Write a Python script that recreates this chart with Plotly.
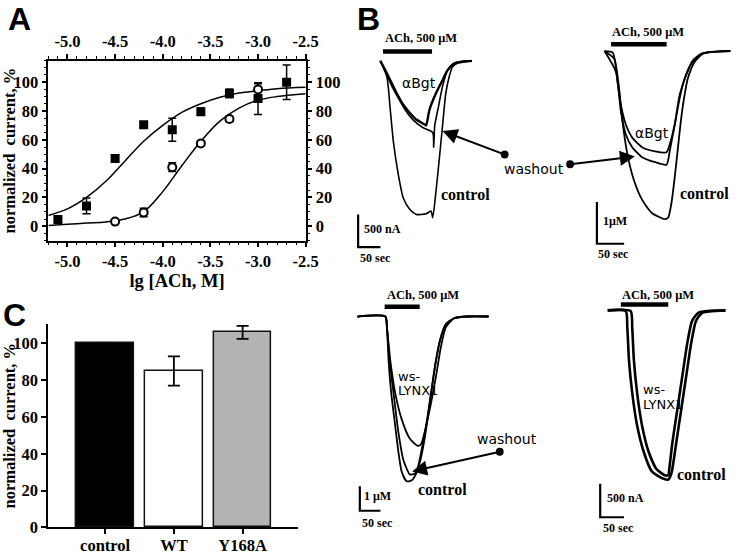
import plotly.graph_objects as go

W, H = 745, 558

# ---------------- Panel A data ----------------
lg_filled = [-5.1, -4.8, -4.5, -4.2, -3.9, -3.6, -3.3, -3.0, -2.7]
cur_filled = [4.6, 14.1, 47, 70.4, 67, 79.5, 92.2, 88.6, 100]
err_filled = [2, 5.5, 2.5, 1.5, 8, 2.5, 3, 11, 12]
lg_open = [-4.5, -4.2, -3.9, -3.6, -3.3, -3.0]
cur_open = [3.2, 9.5, 41, 57.5, 74.5, 95]
err_open = [1, 3, 3, 1.5, 2, 4]
fit_lg = [-5.2, -5.0, -4.8, -4.6, -4.4, -4.2, -4.0, -3.8, -3.6, -3.4, -3.2, -3.0, -2.8, -2.5]
fit_filled = [7.5, 12, 20, 31, 45, 59, 70, 79, 85, 89.5, 92.5, 94, 95.5, 96.5]
fit_open = [0.5, 1.3, 2.2, 3, 5, 10, 24, 42, 59, 73, 82, 87.5, 90, 92]
a_ticks = [-5.0, -4.5, -4.0, -3.5, -3.0, -2.5]
a_ticklabels = ["-5.0", "-4.5", "-4.0", "-3.5", "-3.0", "-2.5"]

# ---------------- Panel C data ----------------
c_cats = ["control", "WT", "Y168A"]
c_vals = [100, 85, 106]
c_errs = [0, 8, 3.5]

# ---------------- Panel B data (time s, current) ----------------
# B1 (nA)
b1_ctrl_t = [-6, 8.8, 16.3, 23.5, 34.5, 45.5, 60.3, 74.8, 96.8, 107.8, 111.5, 118.8, 126.3, 133.5, 140.8, 148.3, 155.5, 170.3, 199.5]
b1_ctrl_i = [0, -245, -745, -1245, -1740, -2095, -2270, -2345, -2335, -2295, -2395, -1995, -1495, -990, -495, -245, -95, -20, 0]
b1_bgt_t = [-6, 5.3, 16.3, 30.8, 45.5, 60.3, 74.8, 93.3, 96.8, 104.3, 118.8, 133.5, 144.5, 159.3, 199.5]
b1_bgt_i = [0, -145, -295, -495, -670, -795, -895, -970, -985, -745, -495, -295, -145, -45, 0]
b1_wash_t = [-6, 5.9, 19.1, 34.5, 49.9, 67.5, 89.5, 111.5, 113.7, 116, 124.7, 133.5, 144.5, 159.9, 199.5]
b1_wash_i = [0, -165, -375, -570, -750, -900, -1020, -1095, -1320, -990, -690, -390, -150, -30, 0]
b1_ach = [0, 110]
# B2 (uA)
b2_ctrl_t = [-12, 2.9, 9, 14.9, 20.9, 29.9, 41.9, 56.9, 74.9, 99, 104.9, 110.9, 117, 122.9, 128.9, 135, 140.9, 153, 167.9, 189, 218.9]
b2_ctrl_i = [0, -0.03, -0.35, -0.9, -1.68, -2.47, -3.1, -3.57, -3.89, -4.04, -4.0, -3.65, -3.02, -2.31, -1.6, -1.05, -0.66, -0.27, -0.07, -0.02, 0]
b2_bgt_t = [-12, 5.9, 11.9, 18, 27, 38.9, 56.9, 81, 101.9, 108, 117, 126, 135, 146.9, 164.9, 200.3, 218.9]
b2_bgt_i = [0, -0.19, -0.74, -1.29, -1.76, -2.08, -2.31, -2.41, -2.43, -2.23, -1.76, -1.13, -0.66, -0.31, -0.07, 0, 0]
b2_wash_t = [-12, 9, 18, 27, 38.9, 56.9, 81, 101.9, 108, 117, 126, 137.9, 149.9, 167.9, 218.9]
b2_wash_i = [0, -0.5, -1.44, -2.0, -2.31, -2.55, -2.67, -2.73, -2.38, -1.76, -1.05, -0.58, -0.23, -0.05, 0]
b2_ach = [0, 102]
# B3 (uA)
b3_ctrl_t = [-66, 1.7, 5.5, 9.5, 15.9, 25.5, 33.3, 41.2, 53.1, 65, 76.9, 88.8, 100.7, 112.6, 124.5, 136.4, 148.3, 168.3, 200, 252]
b3_ctrl_i = [0, 0, -0.44, -1.78, -3.11, -4.44, -5.51, -6.31, -6.71, -6.68, -6.38, -5.51, -4.44, -3.11, -1.78, -0.84, -0.31, -0.07, 0, 0]
b3_lynx_t = [-66, 1.7, 5.5, 13.6, 25.5, 41.2, 61.2, 80.9, 88.8, 100.7, 112.6, 124.5, 136.4, 148.3, 168.3, 200, 252]
b3_lynx_i = [0, 0, -0.44, -1.78, -3.11, -4.18, -4.98, -5.27, -5.18, -4.44, -3.51, -2.44, -1.24, -0.44, -0.07, 0, 0]
b3_wash_t = [-66, 1.7, 5.5, 11.9, 21.4, 33.3, 45.2, 61.2, 73.8, 85.7, 97.6, 109.5, 121.4, 133.3, 147.6, 169, 200, 252]
b3_wash_i = [0, 0, -0.44, -1.78, -3.11, -4.71, -5.83, -6.43, -6.39, -5.91, -4.91, -3.51, -2.11, -1.03, -0.35, -0.07, 0, 0]
b3_ach = [0, 85]
# B4 (nA)
b4_ctrl_t = [-27.6, 10.3, 13.6, 17.1, 23.9, 34.2, 48, 65.1, 85.7, 99.5, 106.3, 116.6, 126.9, 137.2, 147.5, 157.8, 171.6, 219.6]
b4_ctrl_i = [0, -10, -254, -745, -1235, -1724, -2117, -2411, -2509, -2533, -2436, -1970, -1480, -989, -500, -157, -34, 0]
b4_lynx_t = [-27.6, 20.6, 23.9, 27.4, 34.2, 44.5, 58.3, 75.4, 92.7, 99.5, 101.6, 108.4, 118.7, 129, 139.3, 149.6, 163.4, 219.6]
b4_lynx_i = [0, -10, -254, -745, -1235, -1724, -2117, -2381, -2470, -2470, -2380, -1970, -1480, -989, -500, -157, -34, 0]
b4_ach = [0, 99.5]

# ---------------- helpers ----------------
def dx(l, r):
    return [l / W, r / W]

def dy(t, b):
    return [1 - b / H, 1 - t / H]

def P(x, y):
    return x / W, 1 - y / H

BLACK = "black"
serif_b = dict(family="Liberation Serif", color=BLACK, weight="bold")

fig = go.Figure()

# ---------------- Panel A ----------------
fig.add_trace(go.Scatter(x=fit_lg, y=fit_filled, mode="lines", line=dict(color=BLACK, width=1.5, shape="spline"),
                         xaxis="x", yaxis="y", showlegend=False, hoverinfo="skip"))
fig.add_trace(go.Scatter(x=fit_lg, y=fit_open, mode="lines", line=dict(color=BLACK, width=1.5, shape="spline"),
                         xaxis="x", yaxis="y", showlegend=False, hoverinfo="skip"))
fig.add_trace(go.Scatter(x=lg_filled, y=cur_filled, mode="markers",
                         marker=dict(symbol="square", size=9, color=BLACK),
                         error_y=dict(type="data", array=err_filled, color=BLACK, thickness=1.5, width=4),
                         xaxis="x", yaxis="y", showlegend=False))
fig.add_trace(go.Scatter(x=lg_open, y=cur_open, mode="markers",
                         marker=dict(symbol="circle", size=8, color="white", line=dict(color=BLACK, width=2)),
                         error_y=dict(type="data", array=err_open, color=BLACK, thickness=1.5, width=4),
                         xaxis="x", yaxis="y", showlegend=False))
# dummy traces to activate top/right axes
fig.add_trace(go.Scatter(x=[-3.0], y=[50], mode="markers", marker=dict(opacity=0), xaxis="x2", yaxis="y2",
                         showlegend=False, hoverinfo="skip"))

axA_common = dict(showline=True, linecolor=BLACK, linewidth=1.5, ticks="outside", ticklen=5, tickwidth=1.5,
                  tickcolor=BLACK, showgrid=False, zeroline=False, tickfont=dict(size=16.5, **serif_b))
xA = dict(domain=dx(48.3, 310.5), range=[-5.2, -2.5], tickvals=a_ticks, ticktext=a_ticklabels,
          minor=dict(dtick=0.1, tick0=-5.0, ticks="outside", ticklen=3, tickwidth=1.2, tickcolor=BLACK),
          anchor="y", **axA_common)
yA = dict(domain=dy(61.7, 245), range=[-10, 115], tickvals=[0, 20, 40, 60, 80, 100],
          minor=dict(dtick=5, tick0=0, ticks="outside", ticklen=3, tickwidth=1.2, tickcolor=BLACK),
          anchor="x", **axA_common)
fig.update_layout(
    xaxis=dict(**xA, side="bottom",
               title=dict(text="lg [ACh, M]", font=dict(size=18.5, **serif_b), standoff=0)),
    xaxis2=dict(**{k: v for k, v in xA.items() if k != "anchor"}, overlaying="x", side="top", anchor="y"),
    yaxis=dict(**yA, side="left",
               title=dict(text="normalized  current, %", font=dict(size=16.5, **serif_b), standoff=0)),
    yaxis2=dict(**{k: v for k, v in yA.items() if k != "anchor"}, overlaying="y", side="right", anchor="x"),
)

# ---------------- Panel C ----------------
fig.add_trace(go.Bar(x=[0, 1, 2], y=c_vals, width=0.84,
                     marker=dict(color=["black", "white", "#b3b3b3"], line=dict(color="#111", width=1.5)),
                     error_y=dict(type="data", array=c_errs, color=BLACK, thickness=1.8, width=6),
                     xaxis="x3", yaxis="y3", showlegend=False))
fig.update_layout(
    xaxis3=dict(domain=dx(48, 303), range=[-0.83, 2.81], tickvals=[0, 1, 2], ticktext=c_cats,
                showline=True, linecolor=BLACK, linewidth=1.5, ticks="outside", ticklen=5, tickwidth=1.5,
                tickcolor=BLACK, showgrid=False, zeroline=False, anchor="y3", ticklabelstandoff=-3,
                tickfont=dict(size=16.5, **serif_b)),
    yaxis3=dict(domain=dy(330, 537), range=[0, 110.5], tickvals=[0, 20, 40, 60, 80, 100],
                showline=True, linecolor=BLACK, linewidth=1.5, ticks="outside", ticklen=5, tickwidth=1.5,
                tickcolor=BLACK, showgrid=False, zeroline=False, anchor="x3",
                tickfont=dict(size=16.5, **serif_b),
                title=dict(text="normalized  current, %", font=dict(size=16.5, **serif_b), standoff=2)),
)

# ---------------- Panel B ----------------
# calibration of each sub-panel: box (l, t, r, b) px, ACh-start px, s/px, baseline px, units/px
b_cal = {
    4: dict(box=(355, 30, 505, 280), t0=389.3, spp=2.2, base=62, upp=15),
    5: dict(box=(590, 25, 745, 280), t0=621.7, spp=1.8, base=52, upp=0.0236),
    6: dict(box=(355, 290, 505, 555), t0=391, spp=2.38, base=322.3, upp=0.04),
    7: dict(box=(590, 290, 745, 555), t0=631.7, spp=2.06, base=316, upp=14.7),
}
for k, c in b_cal.items():
    l, t, r, b = c["box"]
    fig.layout[f"xaxis{k}"] = dict(domain=dx(l, r), range=[(l - c["t0"]) * c["spp"], (r - c["t0"]) * c["spp"]],
                                   visible=False, anchor=f"y{k}")
    fig.layout[f"yaxis{k}"] = dict(domain=dy(t, b), range=[-(b - c["base"]) * c["upp"], (c["base"] - t) * c["upp"]],
                                   visible=False, anchor=f"x{k}")

def tr(k, t, i, width=1.4):
    fig.add_trace(go.Scatter(x=t, y=i, mode="lines", line=dict(color=BLACK, width=width, shape="spline", smoothing=0.6),
                             xaxis=f"x{k}", yaxis=f"y{k}", showlegend=False, hoverinfo="skip"))

tr(4, b1_ctrl_t, b1_ctrl_i, 1.6)
tr(4, b1_bgt_t, b1_bgt_i, 2.4)
tr(4, b1_wash_t, b1_wash_i, 1.6)
tr(5, b2_ctrl_t, b2_ctrl_i, 1.8)
tr(5, b2_bgt_t, b2_bgt_i, 1.8)
tr(5, b2_wash_t, b2_wash_i, 1.8)
tr(6, b3_ctrl_t, b3_ctrl_i, 1.8)
tr(6, b3_lynx_t, b3_lynx_i, 1.8)
tr(6, b3_wash_t, b3_wash_i, 1.8)
tr(7, b4_ctrl_t, b4_ctrl_i, 2.6)
tr(7, b4_lynx_t, b4_lynx_i, 2.6)

# ACh application bars
ach_level = {4: 145, 5: 0.165, 6: 0.4, 7: 88}
for k, dur in zip([4, 5, 6, 7], [b1_ach, b2_ach, b3_ach, b4_ach]):
    fig.add_trace(go.Scatter(x=dur, y=[ach_level[k]] * 2, mode="lines", line=dict(color=BLACK, width=4.5),
                             xaxis=f"x{k}", yaxis=f"y{k}", showlegend=False, hoverinfo="skip"))

# scale bars: corner (t, I), 50 s, amplitude
scale_bars = {4: (-55.7, -2845, 500), 5: (-25.9, -4.63, 1.0), 6: (-60.2, -7.91, 1.0), 7: (-43.3, -3097, 500)}
for k, (t0, i0, amp) in scale_bars.items():
    fig.add_trace(go.Scatter(x=[t0, t0, t0 + 50], y=[i0 + amp, i0, i0], mode="lines",
                             line=dict(color=BLACK, width=2.2), xaxis=f"x{k}", yaxis=f"y{k}",
                             showlegend=False, hoverinfo="skip"))

# ---------------- text annotations ----------------
anns = []

def txt(s, x, y, size, font="serif", xanchor="center", bold=True):
    px, py = P(x, y)
    f = dict(size=size, color=BLACK)
    if font == "serif":
        f.update(family="Liberation Serif", weight="bold" if bold else "normal")
    elif font == "sans":
        f.update(family="DejaVu Sans")
    else:
        f.update(family="Liberation Sans", weight="bold")
    anns.append(dict(text=s, x=px, y=py, xref="paper", yref="paper", showarrow=False,
                     xanchor=xanchor, yanchor="middle", font=f))

# panel letters
txt("A", 19, 19, 32, font="letter")
txt("B", 375, 19, 32, font="letter")
txt("C", 14, 321, 32, font="letter")

# B1
txt("ACh, 500 \u03bcM", 389, 39, 12.5, xanchor="left")
txt("\u03b1Bgt", 426, 85, 14, font="sans")
txt("control", 473, 198, 16)
txt("500 nA", 368, 233, 12, xanchor="left")
txt("50 sec", 364, 263, 12, xanchor="left")
txt("washout", 543, 172, 14, font="sans")
# B2
txt("ACh, 500 \u03bcM", 621, 33, 12.5, xanchor="left")
txt("\u03b1Bgt", 663, 135, 14, font="sans")
txt("control", 717, 197, 16)
txt("1\u03bcM", 611, 225, 12, xanchor="left")
txt("50 sec", 606, 259, 12, xanchor="left")
# B3
txt("ACh, 500 \u03bcM", 391, 300, 12.5, xanchor="left")
txt("ws-", 403, 383, 13, font="sans", xanchor="left")
txt("LYNX1", 403, 398, 13, font="sans", xanchor="left")
txt("washout", 516, 447, 14, font="sans")
txt("control", 450, 498, 16)
txt("1 \u03bcM", 368, 505, 12, xanchor="left")
txt("50 sec", 366, 533, 12, xanchor="left")
# B4
txt("ACh, 500 \u03bcM", 631, 300, 12.5, xanchor="left")
txt("ws-", 652, 397, 13, font="sans", xanchor="left")
txt("LYNX1", 652, 412, 13, font="sans", xanchor="left")
txt("control", 714, 483, 16)
txt("500 nA", 616, 507, 12, xanchor="left")
txt("50 sec", 611, 538, 12, xanchor="left")

# washout arrows (tail dot -> head)
arrows = [((513.3, 157.3), (450, 133.5)), ((580, 167.3), (646, 159.3)), ((508.3, 460), (419, 480))]
shapes = []
for (tx, ty), (hx, hy) in arrows:
    px, py = P(hx, hy)
    anns.append(dict(text="", x=px, y=py, xref="paper", yref="paper", showarrow=True,
                     ax=tx - hx, ay=ty - hy, axref="pixel", ayref="pixel",
                     arrowhead=2, arrowsize=1.5, arrowwidth=2, arrowcolor=BLACK, standoff=0, startstandoff=0))
    x0, y0 = P(tx - 4, ty + 4)
    x1, y1 = P(tx + 4, ty - 4)
    shapes.append(dict(type="circle", xref="paper", yref="paper", x0=x0, y0=y0, x1=x1, y1=y1,
                       fillcolor=BLACK, line=dict(color=BLACK, width=0)))

fig.update_layout(annotations=anns, shapes=shapes,
                  width=W, height=H, margin=dict(l=0, r=0, t=0, b=0),
                  paper_bgcolor="white", plot_bgcolor="rgba(0,0,0,0)", showlegend=False, bargap=0)

fig.write_html("out.html", config={"displayModeBar": False},
               post_script="document.body.style.margin='0px';document.body.style.overflow='hidden';")
